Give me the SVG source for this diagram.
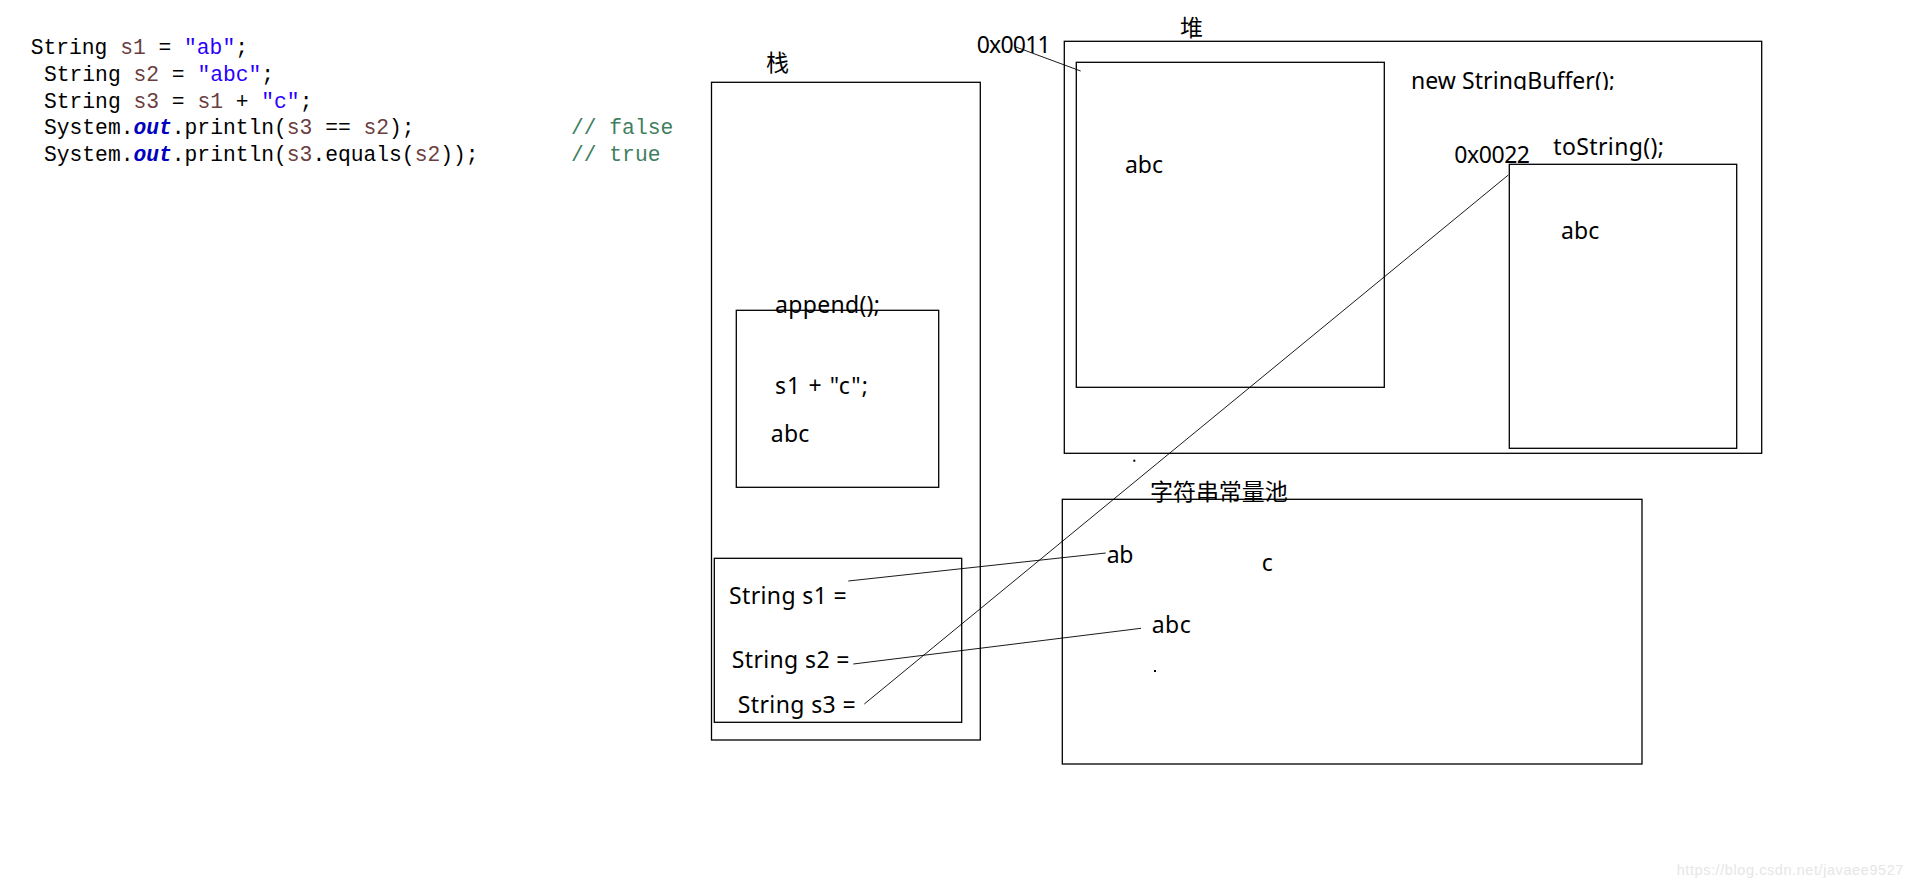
<svg xmlns="http://www.w3.org/2000/svg" width="1914" height="889" viewBox="0 0 1914 889">
<style>
.code{font-family:"Liberation Mono","DejaVu Sans Mono",monospace;font-size:21.3px;fill:#000;white-space:pre}
.v{fill:#6A3E3E}
.s{fill:#2A00FF}
.f{fill:#0000C0;font-weight:bold;font-style:italic}
.c{fill:#3F7F5F}
.lb{font-family:"Noto Sans","Noto Sans CJK SC",sans-serif;font-size:23px;fill:#000}
.cjk{font-family:"Noto Sans CJK SC","Noto Sans",sans-serif;font-size:23px;fill:#000}
.box{fill:none;stroke:#000;stroke-width:1.3}
.ln{fill:none;stroke:#000;stroke-width:0.9}
.wm{font-family:"Liberation Sans",sans-serif;font-size:14.5px;fill:#e6e6e6}
</style>
<defs>
<clipPath id="clipSB"><rect x="1400" y="60" width="260" height="30"/></clipPath>
</defs>
<rect x="0" y="0" width="1914" height="889" fill="#fff"/>

<g id="code">
<text class="code" x="30.7" y="54.3">String <tspan class="v">s1</tspan> = <tspan class="s">"ab"</tspan>;</text>
<text class="code" x="44" y="81">String <tspan class="v">s2</tspan> = <tspan class="s">"abc"</tspan>;</text>
<text class="code" x="44" y="107.7">String <tspan class="v">s3</tspan> = <tspan class="v">s1</tspan> + <tspan class="s">"c"</tspan>;</text>
<text class="code" x="44" y="134.4">System.<tspan class="f">out</tspan>.println(<tspan class="v">s3</tspan> == <tspan class="v">s2</tspan>);</text>
<text class="code" x="44" y="161.4">System.<tspan class="f">out</tspan>.println(<tspan class="v">s3</tspan>.equals(<tspan class="v">s2</tspan>));</text>
<text class="code c" x="571" y="134.4">// false</text>
<text class="code c" x="571" y="161.4">// true</text>
</g>

<g id="stack">
<text class="cjk" x="766" y="71">栈</text>
<rect class="box" x="711.5" y="82.3" width="268.8" height="657.7"/>
</g>

<g id="append-box">
<rect class="box" x="736.3" y="310.3" width="202.4" height="177"/>
<text class="lb" x="775" y="313.3" textLength="105">append();</text>
<text class="lb" x="775" y="394" textLength="93">s1 + "c";</text>
<text class="lb" x="770.7" y="441.7" textLength="38.7">abc</text>
</g>

<g id="stack-vars">
<rect class="box" x="714.3" y="558.3" width="247.4" height="164"/>
<text class="lb" x="729" y="604" textLength="117.7">String s1 =</text>
<text class="lb" x="731.7" y="668.3" textLength="117.7">String s2 =</text>
<text class="lb" x="737.7" y="712.7" textLength="118">String s3 =</text>
</g>

<g id="heap">
<text class="cjk" x="1180" y="36">堆</text>
<rect class="box" x="1064.3" y="41.3" width="697.4" height="412"/>
<text class="lb" x="1411" y="88.5" textLength="204" clip-path="url(#clipSB)">new StringBuffer();</text>
</g>

<g id="buffer-obj">
<rect class="box" x="1076.3" y="62.3" width="308" height="325"/>
<text class="lb" x="976.7" y="52.7" textLength="74">0x0011</text>
<text class="lb" x="1125" y="172.7" textLength="38">abc</text>
</g>

<g id="string-obj">
<rect class="box" x="1509.3" y="164.3" width="227.4" height="284"/>
<text class="lb" x="1454.3" y="162.7" textLength="75.7">0x0022</text>
<text class="lb" x="1553.3" y="155" textLength="110.7">toString();</text>
<text class="lb" x="1561" y="239.3" textLength="38.3">abc</text>
</g>

<g id="pool">
<text class="cjk" x="1150" y="500" textLength="137.7">字符串常量池</text>
<rect class="box" x="1062.3" y="499.3" width="579.7" height="264.7"/>
<text class="lb" x="1106.7" y="563.3" textLength="26.7">ab</text>
<text class="lb" x="1261.7" y="570.7">c</text>
<text class="lb" x="1151.7" y="632.7" textLength="39">abc</text>
<rect x="1154" y="670" width="2" height="2" fill="#000"/>
<rect x="1133.3" y="459.7" width="2" height="2" fill="#000"/>
</g>

<g id="connectors">
<line class="ln" x1="1015" y1="46.7" x2="1080.7" y2="71"/>
<line class="ln" x1="848.3" y1="581" x2="1105.7" y2="553"/>
<line class="ln" x1="853.3" y1="664" x2="1141" y2="628.3"/>
<line class="ln" x1="864.3" y1="704" x2="1508.3" y2="175"/>
</g>

<text class="wm" x="1676.7" y="875" textLength="226.7">https://blog.csdn.net/javaee9527</text>
</svg>
